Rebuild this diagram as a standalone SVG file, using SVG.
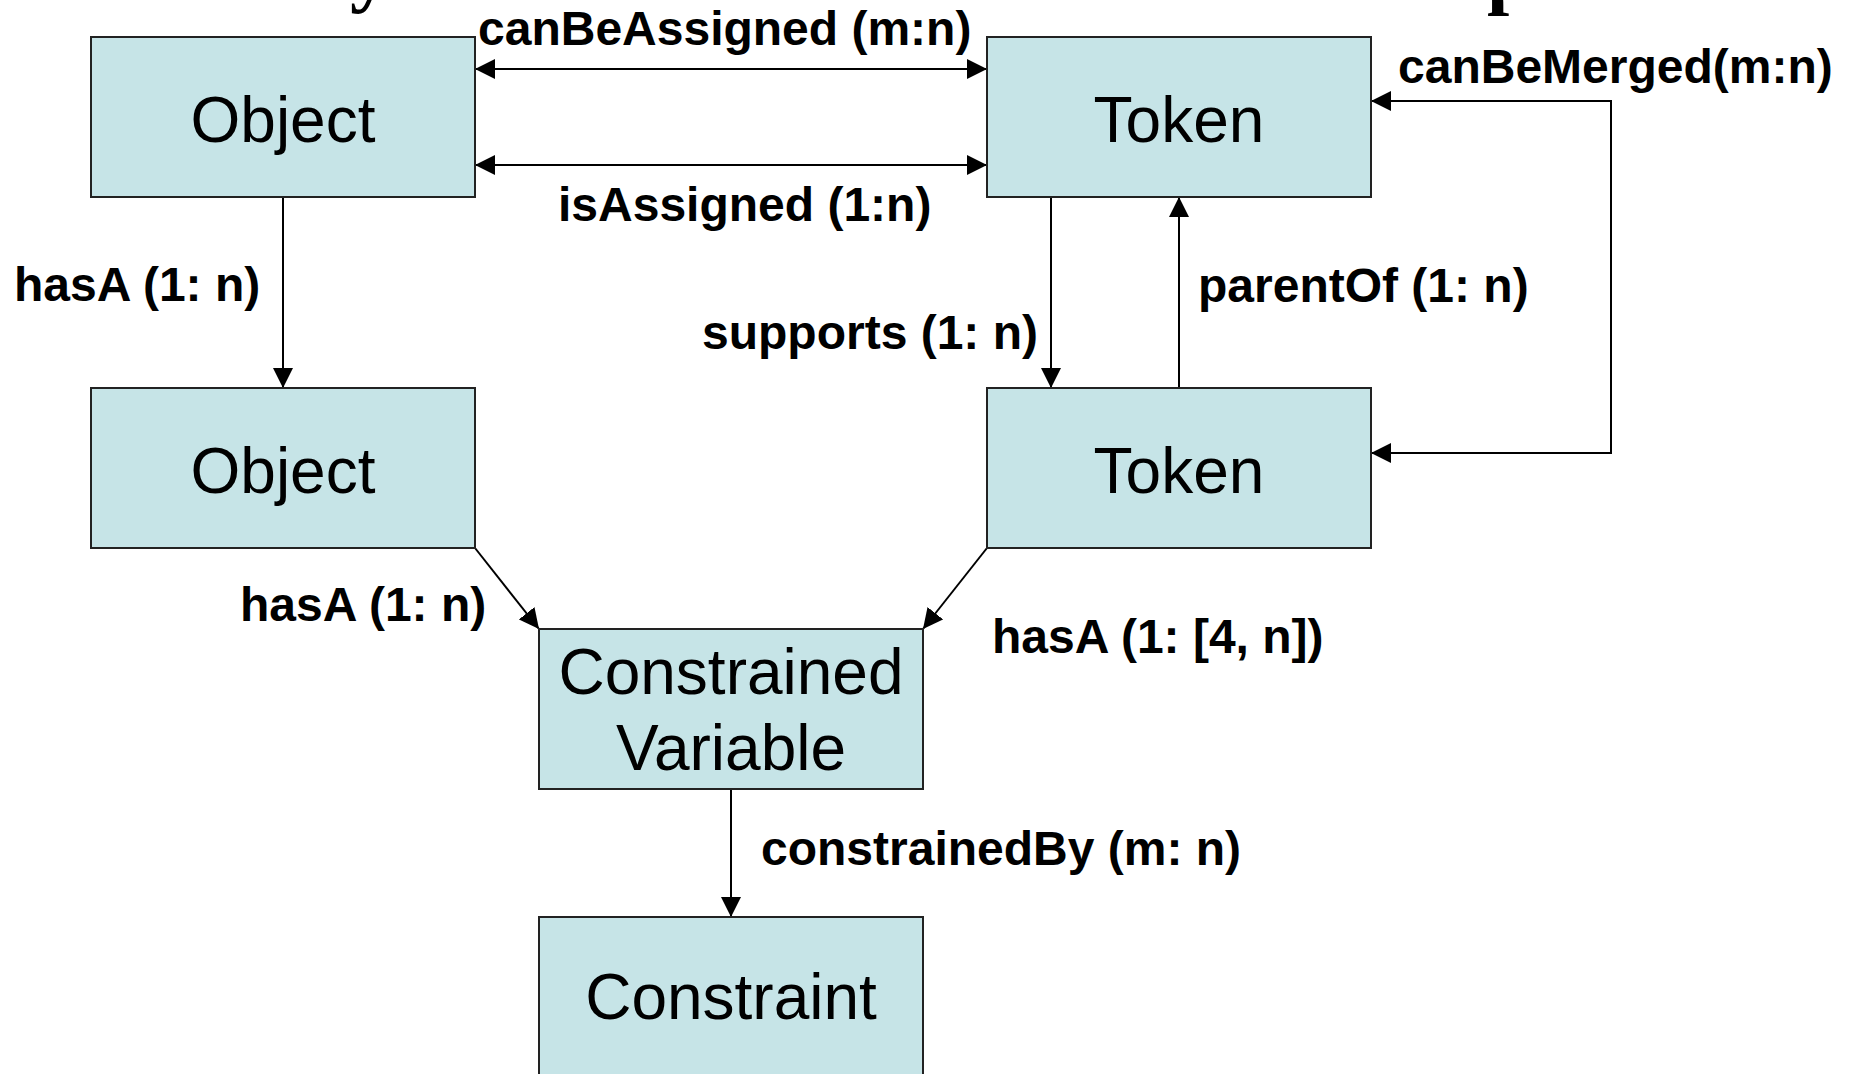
<svg xmlns="http://www.w3.org/2000/svg" width="1851" height="1074" viewBox="0 0 1851 1074">
  <style>
    .node rect { fill: #C6E4E7; stroke: #222; stroke-width: 2; }
    .node text { font-family: "Liberation Sans", Arial, sans-serif; font-size: 64px; fill: #000; text-anchor: middle; }
    .edge { fill: none; stroke: #000; stroke-width: 2; }
    .lbl { font-family: "Liberation Sans", Arial, sans-serif; font-size: 48px; font-weight: bold; fill: #000; }
    .title { font-family: "Liberation Serif", "Times New Roman", serif; font-size: 80px; font-weight: bold; fill: #000; }
  </style>
  <defs>
    <marker id="arrow" viewBox="0 0 20 20" refX="20" refY="10" markerWidth="20" markerHeight="20" markerUnits="userSpaceOnUse" orient="auto-start-reverse">
      <path d="M0,0 L20,10 L0,20 z" fill="#000"/>
    </marker>
  </defs>
  <rect width="1851" height="1074" fill="#fff"/>

  <!-- heading, cut off by the top edge -->
  <text class="title" x="350" y="-3">y</text>
  <text class="title" x="1487" y="-1">p</text>

  <!-- connectors -->
  <g id="connectors">
    <path class="edge" d="M475,69 H987" marker-start="url(#arrow)" marker-end="url(#arrow)"/>
    <path class="edge" d="M475,165 H987" marker-start="url(#arrow)" marker-end="url(#arrow)"/>
    <path class="edge" d="M283,197 V388" marker-end="url(#arrow)"/>
    <path class="edge" d="M1051,197 V388" marker-end="url(#arrow)"/>
    <path class="edge" d="M1179,388 V197" marker-end="url(#arrow)"/>
    <path class="edge" d="M1371,101 H1611 V453 H1371" marker-start="url(#arrow)" marker-end="url(#arrow)"/>
    <path class="edge" d="M475,548 L539,629" marker-end="url(#arrow)"/>
    <path class="edge" d="M987,548 L923,629" marker-end="url(#arrow)"/>
    <path class="edge" d="M731,789 V917" marker-end="url(#arrow)"/>

    <text class="lbl" x="478" y="45">canBeAssigned (m:n)</text>
    <text class="lbl" x="558" y="221">isAssigned (1:n)</text>
    <text class="lbl" x="1398" y="83">canBeMerged(m:n)</text>
    <text class="lbl" x="14" y="301">hasA (1: n)</text>
    <text class="lbl" x="702" y="349">supports (1: n)</text>
    <text class="lbl" x="1198" y="302">parentOf (1: n)</text>
    <text class="lbl" x="240" y="621">hasA (1: n)</text>
    <text class="lbl" x="992" y="653">hasA (1: [4, n])</text>
    <text class="lbl" x="761" y="865">constrainedBy (m: n)</text>
  </g>

  <!-- nodes -->
  <g id="object-top" class="node">
    <rect x="91" y="37" width="384" height="160"/>
    <text x="283" y="142">Object</text>
  </g>
  <g id="token-top" class="node">
    <rect x="987" y="37" width="384" height="160"/>
    <text x="1179" y="142">Token</text>
  </g>
  <g id="object-bottom" class="node">
    <rect x="91" y="388" width="384" height="160"/>
    <text x="283" y="493">Object</text>
  </g>
  <g id="token-bottom" class="node">
    <rect x="987" y="388" width="384" height="160"/>
    <text x="1179" y="493">Token</text>
  </g>
  <g id="constrained-variable" class="node">
    <rect x="539" y="629" width="384" height="160"/>
    <text x="731" y="694">Constrained</text>
    <text x="731" y="770">Variable</text>
  </g>
  <g id="constraint" class="node">
    <rect x="539" y="917" width="384" height="170"/>
    <text x="731" y="1019">Constraint</text>
  </g>
</svg>
